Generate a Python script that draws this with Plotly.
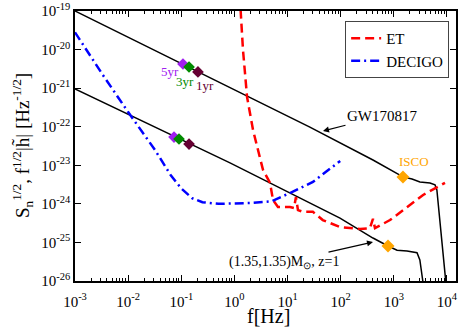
import numpy as np
import plotly.graph_objects as go

# GW170817 (upper black curve): frequency [Hz], f^1/2 |h~|
gw_f = [1.0e-3, 0.206, 26.3, 405, 1486, 2200, 3100, 4790, 5960, 6460, 7710, 9550]
gw_h = [1.0e-19, 2.6e-21, 9.8e-23, 1.37e-23, 5.0e-24, 4.4e-24, 3.7e-24, 3.47e-24,
        3.1e-24, 2.3e-24, 2.1e-25, 9e-27]

# (1.35,1.35) Msun at z=1 (lower black curve)
bns_f = [1.0e-3, 0.826, 97, 405, 776, 1150, 1770, 2730, 3090, 3550]
bns_h = [9.5e-22, 1.15e-23, 4.27e-25, 1.30e-25, 8.1e-26, 6.3e-26, 6.0e-26, 5.4e-26,
         3.5e-26, 8.9e-27]

# Einstein Telescope noise
et_f = [1.26, 1.45, 1.73, 2.24, 3.45, 4.68, 5.32, 6.6, 11.1, 13.2, 14.4, 15.7, 19.5,
        30, 46, 97, 231, 355, 405, 442, 847, 1770, 3550, 9180]
et_s = [2.5e-19, 9.8e-21, 5.9e-22, 8.2e-23, 7.6e-24, 3.5e-24, 1.26e-24, 8.3e-25,
        8.3e-25, 7.8e-25, 1.5e-24, 6.9e-25, 6.2e-25, 6.2e-25, 3.8e-25, 2.5e-25,
        2.24e-25, 2.34e-25, 4.1e-25, 2.34e-25, 3.8e-25, 8.3e-25, 1.7e-24, 3.5e-24]

# DECIGO noise
dec_f = [1.0e-3, 3.2e-3, 1.0e-2, 3.2e-2, 6.3e-2, 0.1, 0.16, 0.25, 0.5, 2.0, 5.0, 11, 30, 98]
dec_s = [2.8e-20, 2.4e-21, 2.4e-22, 2.5e-23, 5.6e-24, 2.5e-24, 1.4e-24, 1.1e-24,
         1.0e-24, 1.05e-24, 1.17e-24, 1.9e-24, 3.7e-24, 1.3e-23]

# time-to-merger markers (5yr, 3yr, 1yr)
yr_labels = ['5yr', '3yr', '1yr']
yr_colors = ['#a020f0', '#008a00', '#660033']
gw_yr_f = [0.1076, 0.14, 0.206]
gw_yr_h = [4.23e-21, 3.53e-21, 2.63e-21]
bns_yr_f = [0.073, 0.0906, 0.14]
bns_yr_h = [5.4e-23, 4.8e-23, 3.55e-23]

# ISCO points
isco_f = [1486, 776]
isco_h = [5.0e-24, 8.1e-26]

FONT = 'Liberation Serif'

fig = go.Figure()

fig.add_trace(go.Scatter(x=gw_f, y=gw_h, mode='lines', line=dict(color='black', width=1.5),
                         showlegend=False))
fig.add_trace(go.Scatter(x=bns_f, y=bns_h, mode='lines', line=dict(color='black', width=1.5),
                         showlegend=False))
fig.add_trace(go.Scatter(x=et_f, y=et_s, mode='lines', name='ET',
                         line=dict(color='#ff0000', width=2.5, dash='9px,5px')))
fig.add_trace(go.Scatter(x=dec_f, y=dec_s, mode='lines', name='DECIGO',
                         line=dict(color='#0000ff', width=2.5, dash='9px,4px,2px,4px')))

for i in range(3):
    fig.add_trace(go.Scatter(x=[gw_yr_f[i], bns_yr_f[i]], y=[gw_yr_h[i], bns_yr_h[i]],
                             mode='markers', showlegend=False,
                             marker=dict(symbol='diamond', size=9, color=yr_colors[i])))

fig.add_trace(go.Scatter(x=isco_f, y=isco_h, mode='markers', showlegend=False,
                         marker=dict(symbol='diamond', size=10, color='#ffa500')))

# year labels
yr_pos = [(-1.212, -20.556), (-0.930, -20.815), (-0.554, -20.944)]
for (lx, ly), t, c in zip(yr_pos, yr_labels, yr_colors):
    fig.add_annotation(x=lx, y=ly, text=t, showarrow=False,
                       font=dict(family=FONT, size=13, color=c))

fig.add_annotation(x=3.38, y=-22.89, text='ISCO', showarrow=False,
                   font=dict(family=FONT, size=13, color='#ffa500'))
fig.add_annotation(x=1.667, y=-22.11, text='GW170817', showarrow=True,
                   ax=59, ay=-15, arrowhead=2, arrowsize=1, arrowwidth=1.2,
                   arrowcolor='black', font=dict(family=FONT, size=15, color='black'))
fig.add_annotation(x=2.608, y=-24.99, text='(1.35,1.35)M<sub>⊙</sub>, z=1', showarrow=True,
                   ax=-89, ay=20, arrowhead=2, arrowsize=1, arrowwidth=1.2,
                   arrowcolor='black', font=dict(family=FONT, size=14, color='black'))

# axis titles as paper annotations
fig.add_annotation(xref='paper', yref='paper', x=0.507, y=-0.13, text='f[Hz]',
                   xanchor='center', yanchor='middle',
                   showarrow=False, font=dict(family=FONT, size=20, color='black'))
fig.add_annotation(xref='paper', yref='paper', x=-0.139, y=0.5, textangle=-90,
                   xanchor='center', yanchor='middle',
                   text='S<sub>n</sub><sup>1/2</sup>, f<sup>1/2</sup>|h̃| [Hz<sup>-1/2</sup>]',
                   showarrow=False, font=dict(family=FONT, size=19, color='black'))

xmaj = [10.0 ** k for k in range(-3, 5)]
xminor = [m * 10.0 ** k for k in range(-3, 4) for m in range(2, 10)]
ymaj = [10.0 ** k for k in range(-26, -18)]

fig.update_xaxes(type='log', range=[-3, 4.17], showgrid=False, zeroline=False,
                 automargin=False,
                 showline=True, linecolor='black', linewidth=1.5, mirror='ticks',
                 ticks='inside', ticklen=6, tickwidth=1, tickcolor='black',
                 tickvals=xmaj, ticktext=[f'10<sup>{k}</sup>' for k in range(-3, 5)],
                 ticklabelstandoff=6,
                 minor=dict(tickvals=xminor, ticks='inside', ticklen=3, tickcolor='black'),
                 tickfont=dict(family=FONT, size=15, color='black'))
fig.update_yaxes(type='log', range=[-26, -19], showgrid=False, zeroline=False,
                 automargin=False,
                 showline=True, linecolor='black', linewidth=1.5, mirror='ticks',
                 ticks='inside', ticklen=6, tickwidth=1, tickcolor='black',
                 tickvals=ymaj, ticktext=[f'10<sup>{k}</sup>' for k in range(-26, -18)],
                 tickfont=dict(family=FONT, size=15, color='black'))

fig.update_layout(
    width=463, height=328,
    margin=dict(l=75, r=7, t=11, b=47),
    plot_bgcolor='white', paper_bgcolor='white',
    legend=dict(x=0.982, y=0.963, xanchor='right', yanchor='top',
                bgcolor='white', bordercolor='#444444', borderwidth=1,
                itemwidth=30, tracegroupgap=0,
                font=dict(family=FONT, size=15, color='black')),
)

# drop the default 8px body margin so the figure sits at the window corner
fig.write_html('out.html', config={'displayModeBar': False},
               post_script="document.body.style.margin='0px';")
